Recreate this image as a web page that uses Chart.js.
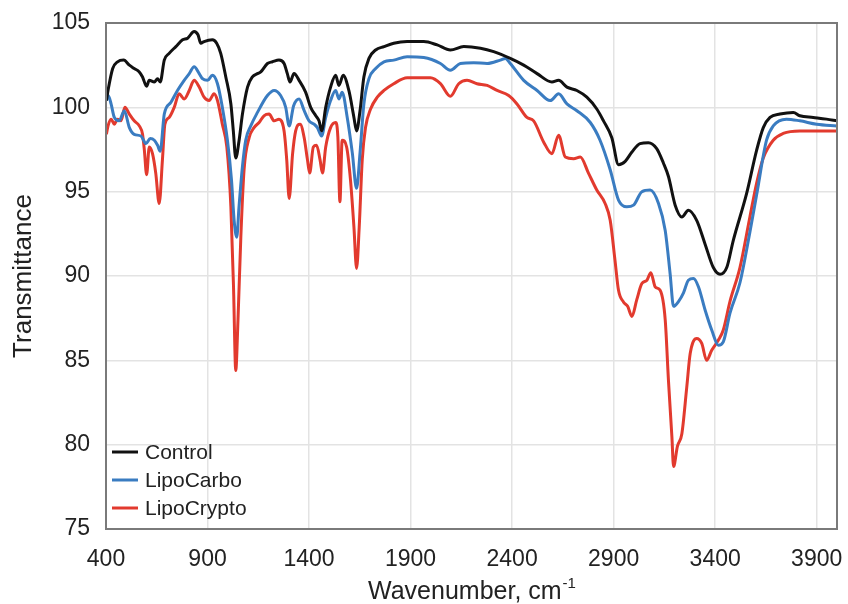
<!DOCTYPE html>
<html>
<head>
<meta charset="utf-8">
<script src="https://cdn.jsdelivr.net/npm/chart.js@4.4.1/dist/chart.umd.min.js"></script>
<style>
  html, body { margin: 0; padding: 0; background: #fff; }
  #wrap { width: 848px; height: 604px; }
</style>
</head>
<body>
<div id="wrap"><canvas id="ftir"></canvas></div>
<script>
// [wavenumber, transmittance]
const control = [
  [402, 100.4], [410, 101.0], [433, 102.3], [457, 102.7], [487, 102.8], [515, 102.5], [539, 102.3],
  [564, 102.1], [580, 101.8], [600, 101.25], [613, 101.6], [638, 101.5], [654, 101.7], [667, 101.5],
  [687, 102.8], [711, 103.2], [744, 103.6], [777, 104.0], [802, 104.1], [834, 104.5], [853, 104.3],
  [867, 103.8], [883, 103.9], [924, 104.0], [945, 103.8], [965, 103.2], [990, 101.8], [1015, 100.2],
  [1027, 98.6], [1039, 97.0], [1055, 98.0], [1072, 99.6], [1097, 101.2], [1121, 101.8], [1146, 102.0],
  [1162, 102.1], [1195, 102.6], [1220, 102.7], [1252, 102.8], [1277, 102.6], [1293, 102.0], [1306, 101.5],
  [1326, 102.0], [1351, 101.6], [1383, 100.9], [1408, 100.0], [1433, 99.5], [1449, 99.2], [1462, 98.6],
  [1482, 100.0], [1506, 101.2], [1531, 101.9], [1547, 101.3], [1568, 101.9], [1596, 101.0], [1621, 99.4],
  [1634, 98.6], [1651, 99.8], [1670, 101.8], [1695, 102.9], [1728, 103.4], [1769, 103.6], [1817, 103.8],
  [1883, 103.9], [1965, 103.9], [2031, 103.7], [2096, 103.4], [2162, 103.6], [2244, 103.5], [2309, 103.3],
  [2391, 102.9], [2457, 102.5], [2523, 102.0], [2596, 101.5], [2629, 101.6], [2670, 101.2], [2719, 101.0],
  [2768, 100.6], [2817, 99.9], [2850, 99.2], [2891, 98.2], [2924, 96.6], [2957, 96.8], [2990, 97.35],
  [3030, 97.85], [3071, 97.9], [3112, 97.55], [3145, 96.7], [3170, 95.9], [3203, 94.2], [3236, 93.5],
  [3268, 93.9], [3309, 93.3], [3350, 91.9], [3391, 90.5], [3424, 90.1], [3457, 90.5], [3489, 92.1],
  [3555, 94.9], [3604, 97.45], [3637, 98.8], [3670, 99.4], [3719, 99.6], [3785, 99.7], [3817, 99.5],
  [3883, 99.4], [3948, 99.3], [4000, 99.2]
];

const lipoCarbo = [
  [402, 100.4], [411, 100.7], [425, 100.2], [441, 99.4], [465, 99.2], [490, 99.8], [515, 98.8],
  [539, 98.4], [572, 98.3], [597, 97.85], [618, 98.15], [638, 98.05], [654, 97.75], [667, 97.4],
  [687, 99.6], [720, 100.3], [752, 101.0], [785, 101.6], [810, 102.0], [834, 102.4], [859, 102.0],
  [875, 101.7], [900, 101.6], [924, 101.9], [949, 101.4], [973, 100.0], [998, 98.05], [1018, 95.7],
  [1031, 93.3], [1044, 92.3], [1055, 94.1], [1072, 96.5], [1088, 98.05], [1113, 98.9], [1146, 99.7],
  [1195, 100.7], [1228, 101.0], [1260, 100.7], [1285, 100.0], [1302, 98.9], [1324, 100.1], [1351, 100.5],
  [1376, 99.8], [1400, 99.2], [1425, 99.0], [1441, 98.8], [1462, 98.3], [1482, 99.4], [1506, 100.4],
  [1531, 101.0], [1547, 100.5], [1563, 100.9], [1588, 99.4], [1613, 97.3], [1634, 95.2], [1651, 97.3],
  [1670, 100.2], [1695, 101.7], [1728, 102.3], [1769, 102.7], [1817, 102.8], [1883, 103.0], [1965, 102.95],
  [2047, 102.6], [2096, 102.2], [2145, 102.6], [2211, 102.65], [2277, 102.6], [2342, 102.8], [2367, 102.9],
  [2391, 102.6], [2457, 101.6], [2523, 101.0], [2588, 100.4], [2629, 100.8], [2670, 100.2], [2719, 99.8],
  [2785, 99.1], [2833, 98.05], [2883, 96.3], [2924, 94.5], [2965, 94.1], [2998, 94.2], [3039, 95.0],
  [3080, 95.1], [3121, 94.3], [3154, 92.7], [3178, 90.15], [3195, 88.2], [3220, 88.5], [3244, 89.0],
  [3268, 89.75], [3293, 89.85], [3318, 89.35], [3350, 88.0], [3383, 86.8], [3416, 85.9], [3440, 86.1],
  [3473, 87.8], [3522, 89.6], [3571, 92.6], [3604, 94.8], [3653, 98.05], [3686, 98.9], [3751, 99.3],
  [3817, 99.2], [3900, 99.0], [4000, 98.9]
];

const lipoCrypto = [
  [402, 98.4], [410, 98.9], [425, 99.3], [441, 99.0], [457, 99.3], [474, 99.2], [493, 100.0],
  [515, 99.6], [539, 99.2], [564, 98.9], [580, 98.4], [589, 97.45], [600, 96.0], [613, 97.65],
  [629, 97.25], [645, 96.1], [662, 94.3], [678, 96.9], [690, 99.0], [711, 99.4], [736, 100.0],
  [760, 100.8], [785, 100.5], [810, 101.0], [834, 101.6], [859, 101.2], [883, 100.6], [908, 100.4],
  [932, 100.8], [949, 100.4], [973, 99.0], [995, 97.65], [1015, 94.1], [1028, 89.35], [1039, 84.4],
  [1050, 87.4], [1064, 92.3], [1080, 96.3], [1105, 98.2], [1129, 98.8], [1154, 99.1], [1178, 99.5],
  [1203, 99.6], [1228, 99.2], [1252, 99.3], [1277, 98.6], [1290, 96.9], [1302, 94.6], [1319, 97.25],
  [1334, 98.6], [1356, 99.0], [1376, 98.2], [1392, 96.9], [1403, 96.1], [1421, 97.65], [1437, 97.75],
  [1454, 96.9], [1466, 96.1], [1482, 97.65], [1506, 98.8], [1531, 99.1], [1542, 98.2], [1552, 94.4],
  [1563, 98.05], [1585, 97.65], [1604, 95.7], [1621, 92.9], [1634, 90.45], [1647, 92.9], [1662, 96.9],
  [1678, 98.8], [1703, 99.9], [1736, 100.6], [1769, 101.0], [1817, 101.4], [1883, 101.75], [1998, 101.75],
  [2047, 101.4], [2096, 100.65], [2137, 101.4], [2178, 101.6], [2227, 101.4], [2277, 101.3], [2326, 101.0],
  [2383, 100.7], [2424, 100.2], [2473, 99.4], [2506, 99.2], [2555, 97.95], [2596, 97.25], [2629, 98.35],
  [2662, 97.05], [2703, 96.95], [2736, 97.05], [2776, 96.1], [2817, 95.1], [2858, 94.3], [2883, 93.3],
  [2907, 90.9], [2924, 89.15], [2949, 88.45], [2969, 88.2], [2990, 87.6], [3014, 88.6], [3039, 89.55],
  [3064, 89.75], [3083, 90.2], [3105, 89.35], [3129, 89.15], [3154, 87.4], [3170, 83.8], [3187, 80.45],
  [3195, 78.7], [3214, 79.9], [3236, 80.65], [3260, 83.4], [3277, 85.4], [3309, 86.3], [3334, 86.0],
  [3358, 85.0], [3383, 85.6], [3416, 86.2], [3440, 86.8], [3473, 88.5], [3522, 90.5], [3571, 93.5],
  [3604, 95.5], [3637, 97.0], [3686, 98.05], [3735, 98.45], [3817, 98.6], [3900, 98.6], [4000, 98.6]
];

const seriesNames = ['Control', 'LipoCarbo', 'LipoCrypto'];
const xTicks = [400, 900, 1400, 1900, 2400, 2900, 3400, 3900];

const colors = ['#111111', '#3a7cc1', '#e23a2e'];
const fontFam = '"Liberation Sans", Arial, sans-serif';

function toPts(arr) {
    return arr.map(p => ({ x: p[0], y: p[1] }));
}

// box round the plot + legend in the lower left corner
const framePlugin = {
    id: 'frame',
    afterDraw(chart) {
        const { ctx, chartArea: a } = chart;
        ctx.save();
        ctx.strokeStyle = '#7a7a7a';
        ctx.lineWidth = 2;
        ctx.strokeRect(a.left, a.top, a.right - a.left, a.bottom - a.top);

        // legend
        ctx.font = '21px ' + fontFam;
        ctx.textBaseline = 'middle';
        chart.data.datasets.forEach((ds, i) => {
            const y = a.bottom - 77 + i * 28;
            ctx.strokeStyle = ds.borderColor;
            ctx.lineWidth = 3;
            ctx.beginPath();
            ctx.moveTo(a.left + 6, y);
            ctx.lineTo(a.left + 32, y);
            ctx.stroke();
            ctx.fillStyle = '#222';
            ctx.fillText(ds.label, a.left + 39, y + 1);
        });

        // x title with superscript
        const main = 'Wavenumber, cm';
        const sup = '-1';
        ctx.font = '25px ' + fontFam;
        const w1 = ctx.measureText(main).width;
        ctx.font = '15px ' + fontFam;
        const w2 = ctx.measureText(sup).width;
        const cx = (a.left + a.right) / 2;
        const x0 = cx - (w1 + w2) / 2;
        ctx.textBaseline = 'alphabetic';
        ctx.fillStyle = '#222';
        ctx.font = '25px ' + fontFam;
        ctx.fillText(main, x0, 599);
        ctx.font = '15px ' + fontFam;
        ctx.fillText(sup, x0 + w1 + 1, 588);
        ctx.restore();
    }
};

const data = {
    datasets: [
        { label: seriesNames[0], data: toPts(control), borderColor: colors[0] },
        { label: seriesNames[1], data: toPts(lipoCarbo), borderColor: colors[1] },
        { label: seriesNames[2], data: toPts(lipoCrypto), borderColor: colors[2] }
    ].map(d => Object.assign(d, {
        borderWidth: 3,
        pointRadius: 0,
        fill: false,
        cubicInterpolationMode: 'monotone'
    }))
};

const config = {
    type: 'line',
    data: data,
    options: {
        responsive: true,
        maintainAspectRatio: false,
        animation: false,
        layout: { padding: { top: 23, right: 11, left: 0, bottom: 0 } },
        scales: {
            x: {
                type: 'linear',
                min: 400,
                max: 4000,
                afterBuildTicks: s => { s.ticks = xTicks.map(v => ({ value: v })); },
                afterFit: s => { s.height = 75; s.paddingLeft = 0; s.paddingRight = 0; },
                grid: { color: '#e3e3e3', lineWidth: 1.5, drawTicks: false },
                border: { display: false },
                ticks: {
                    padding: 17,
                    color: '#222',
                    maxRotation: 0,
                    callback: v => String(v),
                    font: { size: 23, family: fontFam }
                }
            },
            y: {
                min: 75,
                max: 105,
                afterFit: s => { s.width = 106; s.paddingTop = 0; s.paddingBottom = 0; },
                grid: { color: '#e3e3e3', lineWidth: 1.5, drawTicks: false },
                border: { display: false },
                ticks: {
                    stepSize: 5,
                    padding: 16,
                    color: '#222',
                    callback: v => String(v),
                    font: { size: 23, family: fontFam }
                },
                title: {
                    display: true,
                    text: 'Transmittance',
                    color: '#222',
                    padding: { top: 8, bottom: 0 },
                    font: { size: 26, family: fontFam }
                }
            }
        },
        plugins: {
            legend: { display: false },
            tooltip: { enabled: false }
        }
    },
    plugins: [framePlugin]
};

const ftirChart = new Chart(document.getElementById('ftir'), config);
</script>
</body>
</html>
